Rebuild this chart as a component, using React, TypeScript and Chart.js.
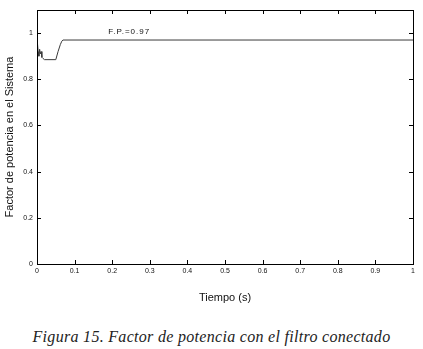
import React, { useEffect, useRef } from "react";
import { Chart, registerables } from "chart.js";

Chart.register(...registerables);

const timeS = [0, 0.001, 0.003, 0.005, 0.007, 0.009, 0.011, 0.013, 0.016, 0.02, 0.05, 0.056, 0.062, 0.066, 0.069, 1];
const powerFactor = [1.0, 0.96, 0.92, 0.9, 0.93, 0.91, 0.92, 0.895, 0.89, 0.885, 0.885, 0.92, 0.95, 0.965, 0.97, 0.97];
const xTicks = [0, 0.1, 0.2, 0.3, 0.4, 0.5, 0.6, 0.7, 0.8, 0.9, 1];
const yTicks = [0, 0.2, 0.4, 0.6, 0.8, 1];
const annotationText = "F.P.=0.97";
const annotationAt = { x: 0.2, y: 1.005 };
const xTitle = "Tiempo (s)";
const yTitle = "Factor de potencia en el Sistema";
const caption = "Figura 15. Factor de potencia con el filtro conectado";

const fmt = (v: number) => (Math.abs(v) < 1e-9 ? "0" : Math.abs(v - 1) < 1e-9 ? "1" : String(Number(v.toFixed(1))));

const framePlugin = {
  id: "frame",
  afterDraw(chart: any) {
    const { ctx, chartArea: a, scales } = chart;
    const xs = scales.x;
    const ys = scales.y;
    const L = 4;
    ctx.save();
    ctx.strokeStyle = "#000";
    ctx.lineWidth = 1;
    ctx.beginPath();
    for (const v of xTicks) {
      const px = Math.round(xs.getPixelForValue(v)) + 0.5;
      ctx.moveTo(px, a.bottom);
      ctx.lineTo(px, a.bottom - L);
      ctx.moveTo(px, a.top);
      ctx.lineTo(px, a.top + L);
    }
    for (const v of yTicks) {
      const py = Math.round(ys.getPixelForValue(v)) + 0.5;
      ctx.moveTo(a.left, py);
      ctx.lineTo(a.left + L, py);
      ctx.moveTo(a.right, py);
      ctx.lineTo(a.right - L, py);
    }
    ctx.stroke();
    ctx.strokeRect(Math.round(a.left) + 0.5, Math.round(a.top) + 0.5, Math.round(a.right - a.left), Math.round(a.bottom - a.top));
    ctx.fillStyle = "#111";
    ctx.font = "8px 'Liberation Sans', Arial, sans-serif";
    ctx.textAlign = "left";
    ctx.textBaseline = "middle";
    const s = ctx as any;
    if ("letterSpacing" in s) s.letterSpacing = "1px";
    ctx.fillText(annotationText, xs.getPixelForValue(annotationAt.x) - 4, ys.getPixelForValue(annotationAt.y));
    ctx.restore();
  },
};

export default function App() {
  const ref = useRef<HTMLCanvasElement | null>(null);
  useEffect(() => {
    if (!ref.current) return;
    const chart = new Chart(ref.current, {
      type: "line",
      data: {
        datasets: [
          {
            data: timeS.map((t, i) => ({ x: t, y: powerFactor[i] })),
            borderColor: "#3a3a3a",
            borderWidth: 1,
            pointRadius: 0,
            tension: 0,
          },
        ],
      },
      options: {
        responsive: false,
        animation: false,
        layout: { padding: { top: 10, right: 10, bottom: 7, left: 0 } },
        plugins: { legend: { display: false }, tooltip: { enabled: false } },
        scales: {
          x: {
            type: "linear",
            min: 0,
            max: 1,
            grid: { display: false, drawTicks: false },
            border: { display: false },
            afterBuildTicks: (axis: any) => {
              axis.ticks = xTicks.map((v) => ({ value: v }));
            },
            afterFit: (scale: any) => {
              scale.height = 44;
            },
            ticks: {
              padding: 3,
              color: "#111",
              font: { family: "'Liberation Sans', Arial, sans-serif", size: 7 },
              callback: (v: any) => fmt(Number(v)),
              maxRotation: 0,
              autoSkip: false,
            },
            title: {
              display: true,
              text: xTitle,
              color: "#111",
              font: { family: "'Liberation Sans', Arial, sans-serif", size: 11 },
              padding: { top: 4, bottom: 3 },
            },
          },
          y: {
            type: "linear",
            min: 0,
            max: 1.1,
            grid: { display: false, drawTicks: false },
            border: { display: false },
            afterBuildTicks: (axis: any) => {
              axis.ticks = yTicks.map((v) => ({ value: v }));
            },
            afterFit: (scale: any) => {
              scale.width = 37;
            },
            ticks: {
              padding: 4,
              color: "#111",
              font: { family: "'Liberation Sans', Arial, sans-serif", size: 7 },
              callback: (v: any) => fmt(Number(v)),
              autoSkip: false,
            },
            title: {
              display: true,
              text: yTitle,
              color: "#111",
              font: { family: "'Liberation Sans', Arial, sans-serif", size: 11 },
              padding: { top: 3, bottom: 3 },
            },
          },
        },
      },
      plugins: [framePlugin],
    });
    return () => chart.destroy();
  }, []);

  return (
    <div style={{ position: "absolute", left: 0, top: 0, width: 423, height: 349, background: "#fff", overflow: "hidden" }}>
      <canvas ref={ref} width={423} height={315} style={{ display: "block", width: 423, height: 315 }} />
      <div
        style={{
          position: "absolute",
          left: 0,
          top: 327,
          width: 423,
          textAlign: "center",
          fontFamily: "'Liberation Serif', 'DejaVu Serif', serif",
          fontStyle: "italic",
          fontSize: 16,
          lineHeight: "20px",
          letterSpacing: "0.3px",
          color: "#222",
        }}
      >
        {caption}
      </div>
    </div>
  );
}
